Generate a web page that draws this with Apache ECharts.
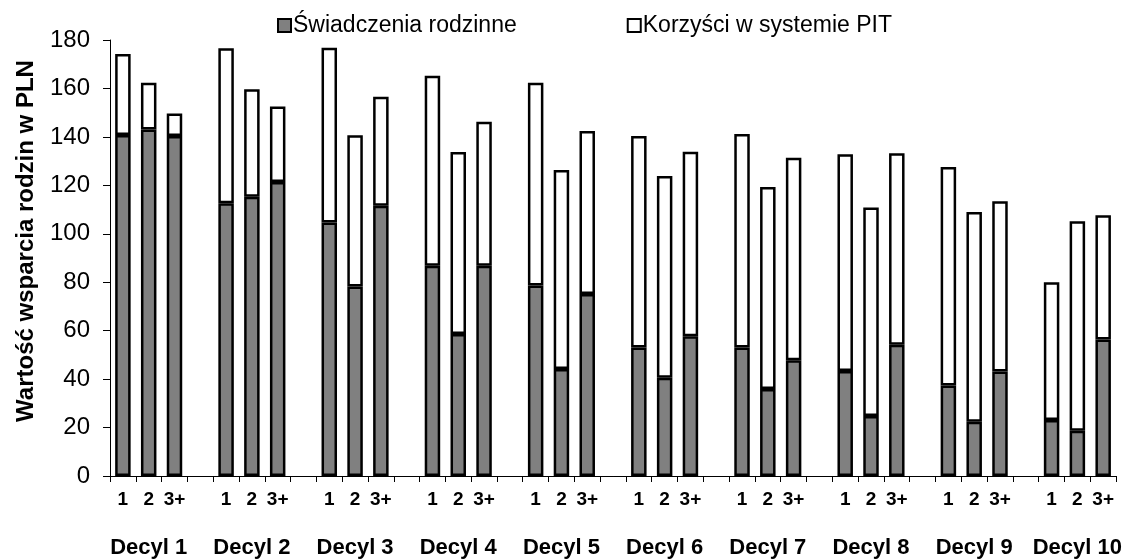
<!DOCTYPE html>
<html>
<head>
<meta charset="utf-8">
<script src="https://cdn.jsdelivr.net/npm/echarts@6/dist/echarts.min.js"></script>
<style>
  html, body { margin: 0; padding: 0; background: #fff; }
  #chart { width: 1125px; height: 560px; }
</style>
</head>
<body>
<div id="chart"></div>
<script>
// dane
const decyle = ["Decyl 1","Decyl 2","Decyl 3","Decyl 4","Decyl 5","Decyl 6","Decyl 7","Decyl 8","Decyl 9","Decyl 10"];
const dzieci = ["1","2","3+"];
// Świadczenia rodzinne (3 wartości na decyl: 1, 2, 3+ dzieci)
const swiadczenia = [
    140.8,143.1,140.4,
    112.6,115.3,121.4,
    104.7,78.2,111.6,
    86.8,58.6,86.8,
    78.6,44.2,75.1,
    53.1,40.6,57.7,
    53.1,35.9,47.8,
    43.4,24.8,54.2,
    37.4,22.4,43.1,
    23.1,18.7,56.4
];
// Korzyści w systemie PIT
const korzysci = [
    33.4,19.2,9.3,
    64.0,44.4,31.1,
    72.1,62.5,45.0,
    78.4,75.2,59.4,
    83.7,82.1,67.3,
    87.3,83.3,76.2,
    88.1,83.4,83.6,
    89.4,86.0,79.0,
    90.2,86.6,70.3,
    56.9,86.5,51.2
];
const yTicks = [0,20,40,60,80,100,120,140,160,180];

// oś kategorii: 3 słupki + przerwa dla każdego decyla
const kategorie = [], decylLabels = [], daneSw = [], daneKo = [];
decyle.forEach((d, i) => {
    dzieci.forEach((c, j) => {
        kategorie.push(c);
        decylLabels.push(j === 1 ? d : "");
        daneSw.push(swiadczenia[i*3+j]);
        daneKo.push(korzysci[i*3+j]);
    });
    if (i < decyle.length - 1) {
        kategorie.push("");
        decylLabels.push("");
        daneSw.push("-");
        daneKo.push("-");
    }
});

const font = "Liberation Sans, Arial, sans-serif";
const chart = echarts.init(document.getElementById("chart"));
chart.setOption({
    animation: false,
    textStyle: { fontFamily: font },
    grid: { left: 110, right: 7, top: 40, bottom: 84, containLabel: false },
    legend: {
        top: 9,
        left: 272,
        itemGap: 110,
        itemWidth: 13,
        itemHeight: 13,
        icon: "rect",
        textStyle: { fontSize: 23, color: "#000", fontFamily: font, padding: [0,0,0,-3] },
        data: ["Świadczenia rodzinne","Korzyści w systemie PIT"]
    },
    xAxis: [
        {
            type: "category",
            data: kategorie,
            position: "bottom",
            axisLine: { lineStyle: { color: "#000", width: 1 } },
            axisTick: { show: true, interval: 0, length: 6, lineStyle: { color: "#000" } },
            axisLabel: { interval: 0, color: "#000", fontSize: 19, fontWeight: "bold", margin: 14, fontFamily: font }
        },
        {
            type: "category",
            data: decylLabels,
            position: "bottom",
            offset: 49,
            axisLine: { show: false },
            axisTick: { show: false },
            axisLabel: { interval: 0, color: "#000", fontSize: 22, fontWeight: "bold", margin: 12, fontFamily: font }
        }
    ],
    yAxis: {
        type: "value",
        min: yTicks[0],
        max: yTicks[yTicks.length - 1],
        interval: 20,
        name: "Wartość wsparcia rodzin w PLN",
        nameLocation: "middle",
        nameGap: 72,
        nameTextStyle: { fontSize: 24, fontWeight: "bold", color: "#000", fontFamily: font, padding: [0,0,0,34] },
        axisLine: { show: true, lineStyle: { color: "#000", width: 1 } },
        axisTick: { show: true, length: 7, lineStyle: { color: "#000" } },
        axisLabel: { color: "#000", fontSize: 24, margin: 20, fontFamily: font },
        splitLine: { show: false }
    },
    series: [
        {
            name: "Świadczenia rodzinne",
            type: "bar",
            stack: "suma",
            data: daneSw,
            barWidth: "60%",
            itemStyle: { color: "#808080", borderColor: "#000", borderWidth: 2.5 }
        },
        {
            name: "Korzyści w systemie PIT",
            type: "bar",
            stack: "suma",
            data: daneKo,
            barWidth: "60%",
            itemStyle: { color: "#fff", borderColor: "#000", borderWidth: 2.5 }
        }
    ]
});
</script>
</body>
</html>
